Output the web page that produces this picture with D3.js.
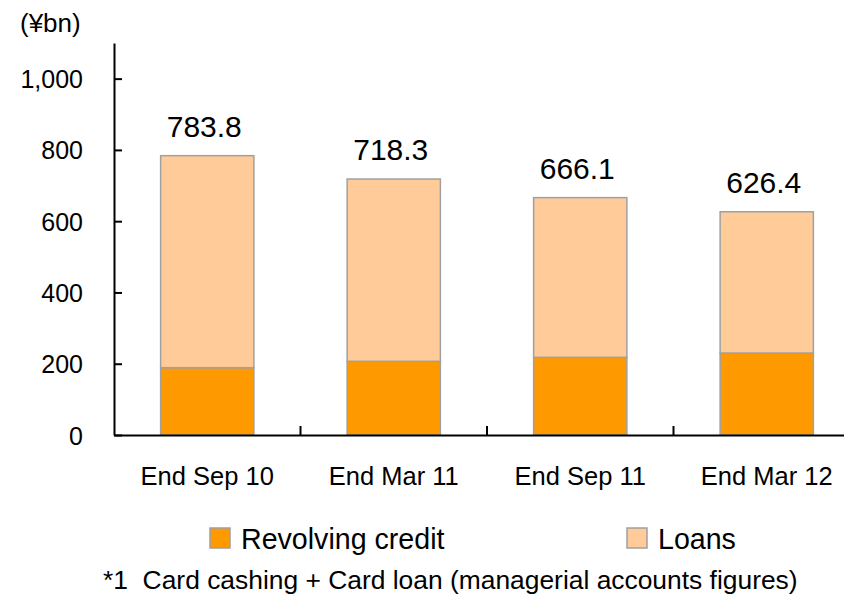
<!DOCTYPE html>
<html>
<head>
<meta charset="utf-8">
<script src="https://cdn.jsdelivr.net/npm/d3@7"></script>
<style>
  body { margin: 0; background: #fff; }
  text { font-family: "Liberation Sans", Arial, sans-serif; fill: #000; }
</style>
</head>
<body>
<svg id="chart" width="844" height="595"></svg>
<script>
var categories = ['End Sep 10', 'End Mar 11', 'End Sep 11', 'End Mar 12'];
var revolving = [188.9, 206.8, 218.0, 230.0];
var loans = [594.9, 511.5, 448.1, 396.4];
var totals = [783.8, 718.3, 666.1, 626.4];
var yTicks = [0, 200, 400, 600, 800, 1000];
var seriesNames = ['Revolving credit', 'Loans'];
var seriesColors = ['#ff9900', '#ffcc99'];

var svg = d3.select('#chart');

var x = d3.scaleBand()
  .domain(categories)
  .range([114, 860])
  .paddingInner(0.5)
  .paddingOuter(0.25);

var y = d3.scaleLinear()
  .domain([0, 1100])
  .range([435, 43]);

// stack the two series
var rows = categories.map(function (c, i) {
  return { cat: c, rev: revolving[i], loan: loans[i] };
});
var stacked = d3.stack().keys(['rev', 'loan'])(rows);

svg.append('g').selectAll('g')
  .data(stacked)
  .enter().append('g')
    .attr('fill', function (d, i) { return seriesColors[i]; })
  .selectAll('rect')
  .data(function (d) { return d; })
  .enter().append('rect')
    .attr('x', function (d) { return x(d.data.cat); })
    .attr('y', function (d) { return y(d[1]); })
    .attr('width', x.bandwidth())
    .attr('height', function (d) { return y(d[0]) - y(d[1]); })
    .attr('stroke', '#a0a0a0')
    .attr('stroke-width', 1.5);

// totals above bars
svg.append('g').selectAll('text')
  .data(totals)
  .enter().append('text')
    .attr('x', function (d, i) { return x(categories[i]) + x.bandwidth() / 2 - 3; })
    .attr('y', function (d) { return y(d) - 19; })
    .attr('text-anchor', 'middle')
    .style('font-size', '30px')
    .text(function (d) { return d3.format('.1f')(d); });

// y axis, ticks point inward
var yAxis = svg.append('g')
  .attr('transform', 'translate(114,0)')
  .call(d3.axisLeft(y).tickValues(yTicks).tickSizeInner(-8).tickSizeOuter(0).tickPadding(31)
    .tickFormat(d3.format(',')));
yAxis.select('.domain').attr('stroke-width', 2);
yAxis.selectAll('.tick line').attr('stroke-width', 2);
yAxis.selectAll('text').style('font-size', '25px').attr('dy', '0.36em');

// x axis line with boundary ticks between categories
var xAxis = svg.append('g')
  .attr('transform', 'translate(0,435)')
  .call(d3.axisBottom(x).tickSize(0).tickPadding(0));
xAxis.select('.domain').attr('stroke-width', 2);
xAxis.selectAll('text')
  .attr('y', 50)
  .attr('dy', 0)
  .style('font-size', '25.5px');

svg.append('g').selectAll('line')
  .data(categories.slice(1))
  .enter().append('line')
    .attr('x1', function (d) { return x(d) + x.bandwidth() / 2 - x.step() / 2; })
    .attr('x2', function (d) { return x(d) + x.bandwidth() / 2 - x.step() / 2; })
    .attr('y1', 435)
    .attr('y2', 426)
    .attr('stroke', '#000')
    .attr('stroke-width', 2);

// unit label
svg.append('text')
  .attr('x', 20)
  .attr('y', 32)
  .style('font-size', '26px')
  .text('(¥bn)');

// legend
var legendX = [210, 627];
var legend = svg.append('g').selectAll('g')
  .data(seriesNames)
  .enter().append('g')
    .attr('transform', function (d, i) { return 'translate(' + legendX[i] + ',528)'; });
legend.append('rect')
  .attr('width', 20)
  .attr('height', 20)
  .attr('fill', function (d, i) { return seriesColors[i]; })
  .attr('stroke', '#a0a0a0')
  .attr('stroke-width', 1.5);
legend.append('text')
  .attr('x', 31)
  .attr('y', 21)
  .style('font-size', '28.6px')
  .text(function (d) { return d; });

// footnote
svg.append('text')
  .attr('x', 103)
  .attr('y', 589)
  .style('font-size', '26.4px')
  .style('white-space', 'pre')
  .text('*1  Card cashing + Card loan (managerial accounts figures)');
</script>
</body>
</html>
